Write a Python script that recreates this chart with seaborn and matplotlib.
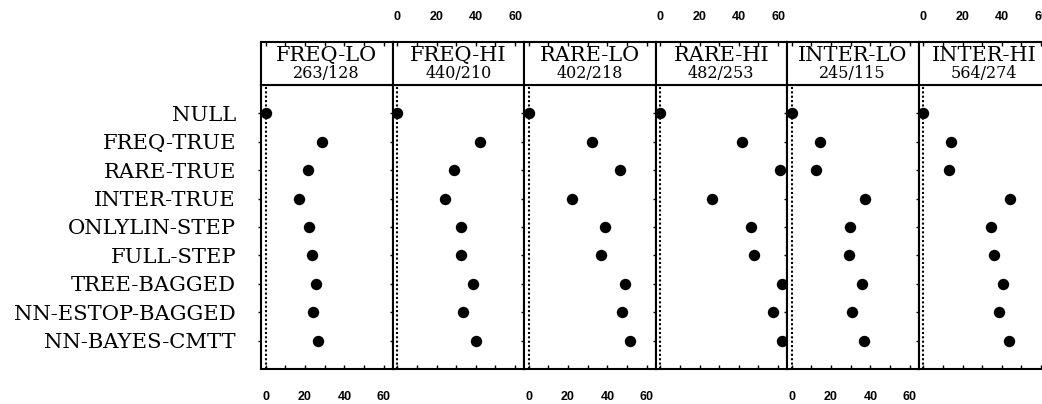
import matplotlib
matplotlib.use("Agg")
import matplotlib.pyplot as plt
import pandas as pd
import seaborn as sns

METHODS = ["NULL", "FREQ-TRUE", "RARE-TRUE", "INTER-TRUE", "ONLYLIN-STEP",
           "FULL-STEP", "TREE-BAGGED", "NN-ESTOP-BAGGED", "NN-BAYES-CMTT"]
TASKS = ["FREQ-LO", "FREQ-HI", "RARE-LO", "RARE-HI", "INTER-LO", "INTER-HI"]
COUNTS = ["263/128", "440/210", "402/218", "482/253", "245/115", "564/274"]

FREQ_LO = [0, 28.5, 21.3, 17.0, 22.1, 23.5, 25.5, 24.0, 26.5]
FREQ_HI = [0, 42.0, 28.7, 24.1, 32.7, 32.3, 38.6, 33.7, 40.0]
RARE_LO = [0, 32.0, 46.3, 22.1, 38.8, 36.7, 48.8, 47.3, 51.4]
RARE_HI = [0, 41.7, 60.7, 26.4, 46.4, 47.8, 62.0, 57.5, 62.0]
INTER_LO = [0, 14.5, 12.4, 37.2, 29.8, 29.3, 35.7, 30.6, 36.6]
INTER_HI = [0, 14.3, 13.3, 44.2, 34.5, 36.1, 40.8, 38.6, 43.7]

VALUES = [FREQ_LO, FREQ_HI, RARE_LO, RARE_HI, INTER_LO, INTER_HI]

sns.set_theme(style="ticks")
plt.rcParams["font.family"] = ["DejaVu Serif"]
plt.rcParams["text.color"] = "black"
plt.rcParams["xtick.color"] = "black"
plt.rcParams["ytick.color"] = "black"
plt.rcParams["xtick.labelcolor"] = "black"
plt.rcParams["ytick.labelcolor"] = "black"

df = pd.DataFrame([
    {"task": task, "method": method, "value": value}
    for task, values in zip(TASKS, VALUES)
    for method, value in zip(METHODS, values)
])

W, H = 1042, 404
fig = plt.figure(figsize=(W / 100, H / 100), dpi=100)


def frac(x0, y0, w, h):
    # pixel box (top-left origin) -> figure fraction
    return [x0 / W, 1 - (y0 + h) / H, w / W, h / H]


PANEL_W = 131.5
XLIM = (-2.4, 64.5)
TICKS = list(range(0, 70, 10))
TICK_LABELS = ["0", "", "20", "", "40", "", "60"]
tick_font = {"family": "Liberation Sans", "weight": "bold", "size": 9}

for i, (task, count) in enumerate(zip(TASKS, COUNTS)):
    left = 261 + PANEL_W * i
    ax = fig.add_axes(frac(left, 85, PANEL_W, 284))
    head = fig.add_axes(frac(left, 42, PANEL_W, 43))

    sns.stripplot(data=df[df["task"] == task], x="value", y="method", order=METHODS,
                  jitter=False, color="black", size=8.2, linewidth=0, ax=ax)
    ax.axvline(0, color="black", ls=(0, (1, 1.1)), lw=1.5, zorder=1)
    ax.set_xlim(*XLIM)
    ax.set_ylim(9, -1)
    ax.set_xlabel("")
    ax.set_ylabel("")
    ax.set_xticks(TICKS, labels=TICK_LABELS)
    ax.tick_params(axis="x", direction="in", length=3, width=1, pad=15.5,
                   labelbottom=(i % 2 == 0), color="black")
    for lab in ax.get_xticklabels():
        lab.set_fontproperties(tick_font)
    ax.tick_params(axis="y", direction="out", length=2, width=1, pad=16,
                   labelleft=(i == 0), labelsize=15.2)
    for spine in ax.spines.values():
        spine.set_visible(True)
        spine.set_linewidth(1.5)
        spine.set_color("black")

    head.set_xlim(*XLIM)
    head.set_ylim(0, 1)
    head.set_yticks([])
    head.set_xticks(TICKS, labels=TICK_LABELS)
    head.tick_params(axis="x", direction="in", length=3, width=1, pad=14,
                     bottom=False, labelbottom=False, top=True, labeltop=(i % 2 == 1))
    for lab in head.get_xticklabels():
        lab.set_fontproperties(tick_font)
    for spine in head.spines.values():
        spine.set_visible(True)
        spine.set_linewidth(1.5)
        spine.set_color("black")
    head.text(0.5, 0.68, task, transform=head.transAxes, ha="center", va="center",
              fontsize=15)
    head.text(0.5, 0.26, count, transform=head.transAxes, ha="center", va="center",
              fontsize=11.5)

fig.savefig("out.png", dpi=100)
